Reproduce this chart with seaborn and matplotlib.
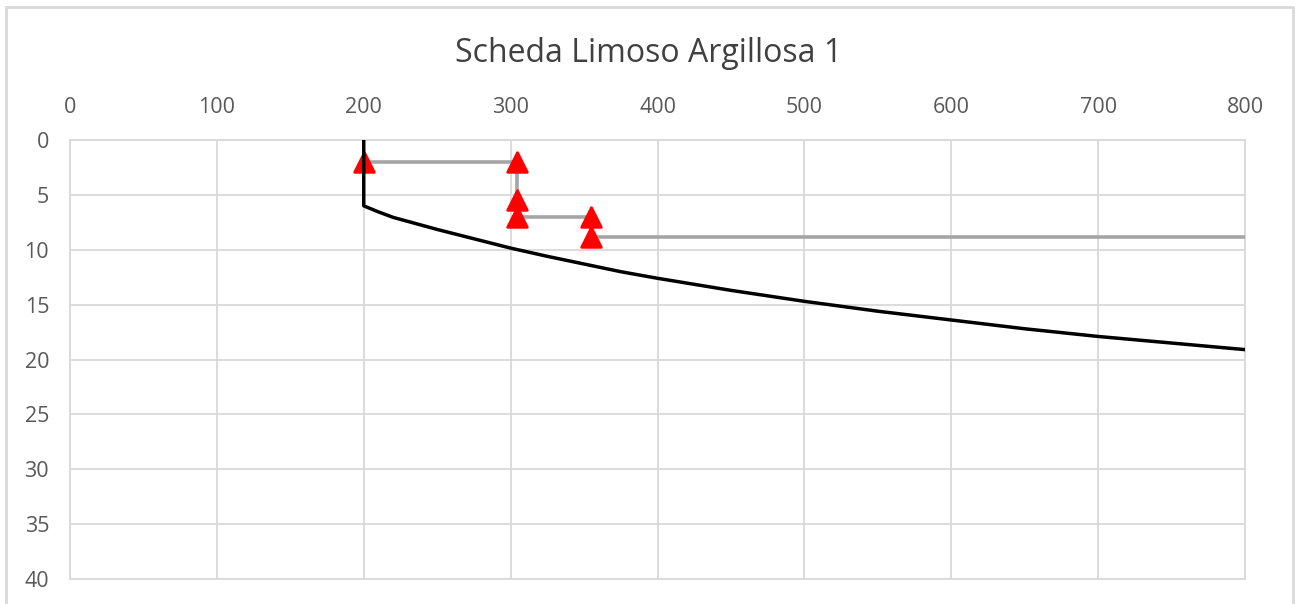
import matplotlib
matplotlib.use("Agg")
import matplotlib.pyplot as plt
from matplotlib.patches import Rectangle
import seaborn as sns
import pandas as pd

# Step profile (grey line) and its measured points (red triangles)
step_x = [200, 304, 304, 304, 355, 355, 800]
step_y = [2, 2, 5.5, 7, 7, 8.8, 8.8]
marker_x = [200, 304, 304, 304, 355, 355]
marker_y = [2, 2, 5.5, 7, 7, 8.8]

# Reference curve (black line)
curve_x = [200, 200, 210, 220, 235, 250, 275, 300, 325, 350, 375, 400, 450, 500,
           550, 600, 650, 700, 750, 800]
curve_y = [0, 6.0, 6.55, 7.05, 7.6, 8.15, 9.0, 9.85, 10.6, 11.3, 12.0, 12.6, 13.7,
           14.7, 15.6, 16.4, 17.2, 17.9, 18.5, 19.1]

x_ticks = [0, 100, 200, 300, 400, 500, 600, 700, 800]
y_ticks = [0, 5, 10, 15, 20, 25, 30, 35, 40]
title = "Scheda Limoso Argillosa 1"

sns.set_theme(style="white")
plt.rcParams["font.family"] = ["Open Sans", "DejaVu Sans"]

W, H = 1298, 604
fig = plt.figure(figsize=(W / 100, H / 100), dpi=100)
ax = fig.add_axes([70 / W, 1 - 579 / H, (1245 - 70) / W, (579 - 140) / H])

step_df = pd.DataFrame({"x": step_x, "y": step_y})
mark_df = pd.DataFrame({"x": marker_x, "y": marker_y})
curve_df = pd.DataFrame({"x": curve_x, "y": curve_y})

sns.lineplot(data=step_df, x="x", y="y", sort=False, estimator=None,
             color="#A5A5A5", linewidth=2.6, ax=ax, zorder=3)
sns.scatterplot(data=mark_df, x="x", y="y", marker="^", s=200,
                color="#FF0000", edgecolor="#FF0000", linewidth=2.0, ax=ax, zorder=4)
for coll in ax.collections:
    coll.set_joinstyle("round")
sns.lineplot(data=curve_df, x="x", y="y", sort=False, estimator=None,
             color="black", linewidth=2.5, ax=ax, zorder=5)

ax.set_xlim(0, 800)
ax.set_ylim(40, 0)
ax.set_xticks(x_ticks)
ax.set_yticks(y_ticks)
ax.xaxis.tick_top()
ax.set_xlabel("")
ax.set_ylabel("")
ax.grid(True, color="#D9D9D9", linewidth=1.3)
ax.set_axisbelow(True)
for sp in ax.spines.values():
    sp.set_color("#D9D9D9")
    sp.set_linewidth(1.3)
ax.tick_params(axis="x", length=0, pad=16, labelsize=15.5, labelcolor="#595959")
ax.tick_params(axis="y", length=0, pad=15, labelsize=15.5, labelcolor="#595959")

fig.text(649 / W, 1 - 54 / H, title, ha="center", va="center",
         fontsize=23, color="#404040")

fig.patches.append(Rectangle((6 / W, -0.05), (1293 - 6) / W, 1 - 7 / H + 0.05,
                             transform=fig.transFigure, fill=False,
                             edgecolor="#D9D9D9", linewidth=2))

fig.savefig("out.png", dpi=100, facecolor="white")
